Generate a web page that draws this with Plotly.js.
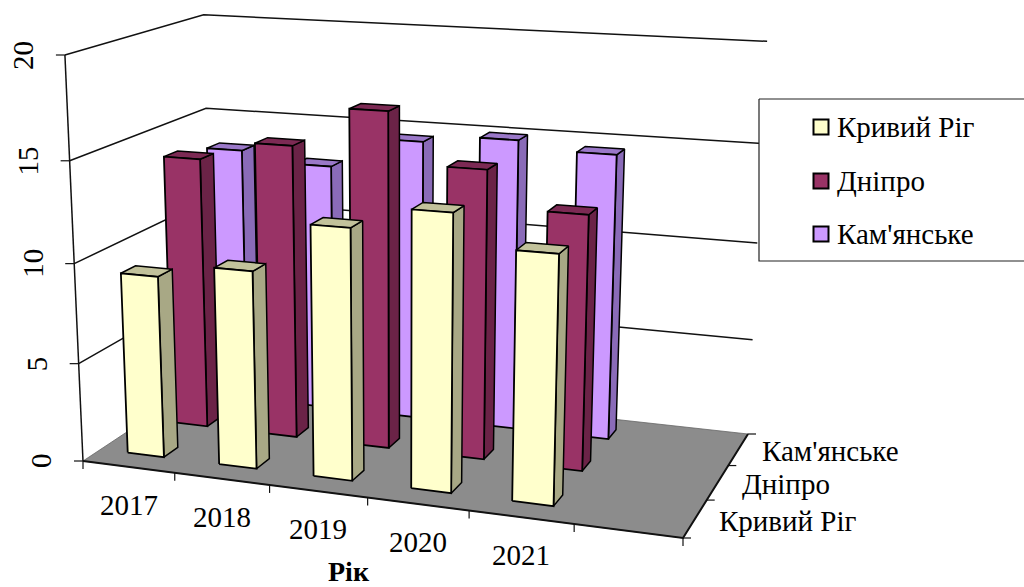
<!DOCTYPE html>
<html>
<head>
<meta charset="utf-8">
<script src="https://cdn.plot.ly/plotly-3.0.1.min.js"></script>
<style>html,body{margin:0;padding:0;background:#fff}#chart{width:1024px;height:587px}</style>
</head>
<body>
<div id="chart"></div>
<script>
// Values per city, one entry per year
const years = ['2017', '2018', '2019', '2020', '2021'];
const cities = ['Кривий Ріг', 'Дніпро', "Кам'янське"];
const kryvyiRih = [9.2, 9.9, 12.4, 13.5, 12.0];
const dnipro = [14.0, 15.0, 17.0, 14.5, 12.7];
const kamianske = [13.5, 13.0, 14.6, 15.0, 14.6];
const valueTicks = [0, 5, 10, 15, 20];
const seriesValues = [kryvyiRih, dnipro, kamianske];

// Face colours per city: front, top, side
const palette = [
  ['#FFFFCC', '#C2C29B', '#A8A885'],
  ['#993366', '#7C2A54', '#6B2347'],
  ['#CC99FF', '#9A78C8', '#8A6BB8']
];

const FONT = 'Liberation Serif, Times New Roman, serif';
const U_SLOTS = 6, W_SLOTS = 3, V_MAX = 20;
const BAR_W = 0.4, BAR_D = 0.31, BAR_FRONT = 0.37;

// Floor corners and vertical vanishing point of the oblique view
const floorA = [83, 461], floorB = [683, 538], floorC = [748, 434], floorD = [213, 375];
const vanish = [400, 7580], topOfA = 55;

const dx1 = floorB[0] - floorC[0], dx2 = floorD[0] - floorC[0], sx = floorA[0] - floorB[0] + floorC[0] - floorD[0];
const dy1 = floorB[1] - floorC[1], dy2 = floorD[1] - floorC[1], sy = floorA[1] - floorB[1] + floorC[1] - floorD[1];
const den = dx1 * dy2 - dx2 * dy1;
const g = (sx * dy2 - dx2 * sy) / den, h = (dx1 * sy - sx * dy1) / den;
const a = floorB[0] - floorA[0] + g * floorB[0], b = floorD[0] - floorA[0] + h * floorD[0];
const d = floorB[1] - floorA[1] + g * floorB[1], e = floorD[1] - floorA[1] + h * floorD[1];
const k = (floorA[1] - topOfA) / (V_MAX * (topOfA - vanish[1]));

// Category slot u, depth slot w, value v -> drawing-plane position
function project(u, w, v) {
  const s = u / U_SLOTS, t = w / W_SLOTS, m = k * v;
  const W = g * s + h * t + 1 + m;
  return [(a * s + b * t + floorA[0] + m * vanish[0]) / W,
          (d * s + e * t + floorA[1] + m * vanish[1]) / W];
}

const traces = [];
function poly(pts, fill, lineColor, width) {
  const closed = pts.concat([pts[0]]);
  traces.push({
    x: closed.map(p => p[0]), y: closed.map(p => p[1]), type: 'scatter', mode: 'lines',
    fill: 'toself', fillcolor: fill, line: {color: lineColor, width: width, simplify: false},
    hoverinfo: 'skip', showlegend: false
  });
}
function line(pts, width, color) {
  traces.push({
    x: pts.map(p => p[0]), y: pts.map(p => p[1]), type: 'scatter', mode: 'lines',
    line: {color: color || '#111', width: width || 1.5, simplify: false}, hoverinfo: 'skip', showlegend: false
  });
}

// Back-wall and side-wall gridlines
valueTicks.slice(1).forEach(v => {
  line([project(0, 0, v), project(0, W_SLOTS, v), project(U_SLOTS, W_SLOTS, v)], 1.5);
});

// Floor
poly([project(0, 0, 0), project(U_SLOTS, 0, 0), project(U_SLOTS, W_SLOTS, 0), project(0, W_SLOTS, 0)], '#8C8C8C', '#666', 0.8);
line([project(0, 0, 0), project(U_SLOTS, 0, 0), project(U_SLOTS, W_SLOTS, 0)], 2);
line([project(0, 0, 0), project(0, 0, V_MAX)], 1.5);

// Tick marks on the three axes
valueTicks.forEach(v => {
  const p = project(0, 0, v);
  line([p, [p[0] - 9, p[1]]], 1.2);
});
for (let i = 0; i <= U_SLOTS; i++) {
  const p = project(i, 0, 0);
  line([p, [p[0], p[1] + 8]], 1.2);
}
for (let j = 0; j <= W_SLOTS; j++) {
  const p = project(U_SLOTS, j, 0);
  line([p, [p[0] + 8, p[1]]], 1.2);
}

// Bars from the back row forward
for (let r = W_SLOTS - 1; r >= 0; r--) {
  seriesValues[r].forEach((v, i) => {
    const u0 = i + (1 - BAR_W) / 2, u1 = u0 + BAR_W;
    const w0 = r + BAR_FRONT, w1 = w0 + BAR_D;
    const [front, top, side] = palette[r];
    poly([project(u1, w0, 0), project(u1, w1, 0), project(u1, w1, v), project(u1, w0, v)], side, '#000', 1.5);
    poly([project(u0, w0, v), project(u1, w0, v), project(u1, w1, v), project(u0, w1, v)], top, '#000', 1.5);
    poly([project(u0, w0, 0), project(u1, w0, 0), project(u1, w0, v), project(u0, w0, v)], front, '#000', 1.8);
  });
}

// Legend panel with its swatches
poly([[759, 99], [1030, 99], [1030, 261], [759, 261]], '#fff', '#222', 1.2);
const legendY = [127, 181, 234];
cities.forEach((c, r) => {
  traces.push({
    x: [821], y: [legendY[r]], type: 'scatter', mode: 'markers',
    marker: {symbol: 'square', size: 15, color: palette[r][0], line: {color: '#000', width: 2}},
    hoverinfo: 'skip', showlegend: false
  });
});

const annotations = [];
function label(x, y, text, opts) {
  annotations.push(Object.assign({
    x: x, y: y, xref: 'x', yref: 'y', text: text, showarrow: false,
    font: {family: FONT, size: 29, color: '#000'}
  }, opts || {}));
}
valueTicks.forEach(v => {
  const p = project(0, 0, v);
  label(p[0] - 42, p[1], String(v), {textangle: -90});
});
years.forEach((y, i) => {
  const p = project(i + 0.5, 0, 0);
  label(p[0], p[1] + 38, y);
});
cities.forEach((c, r) => {
  const p = project(U_SLOTS, r + 0.5, 0);
  label(p[0] + 22, p[1] + 2, c, {xanchor: 'left'});
  label(835, legendY[r], c, {xanchor: 'left'});
});
label(349, 571, '<b>Рік</b>', {font: {family: FONT, size: 28, color: '#000'}});

Plotly.newPlot('chart', traces, {
  width: 1024, height: 587,
  margin: {l: 0, r: 0, t: 0, b: 0},
  paper_bgcolor: '#fff', plot_bgcolor: '#fff',
  showlegend: false,
  xaxis: {range: [0, 1024], visible: false, fixedrange: true},
  yaxis: {range: [587, 0], visible: false, fixedrange: true},
  annotations: annotations
}, {displayModeBar: false, staticPlot: true});
</script>
</body>
</html>
